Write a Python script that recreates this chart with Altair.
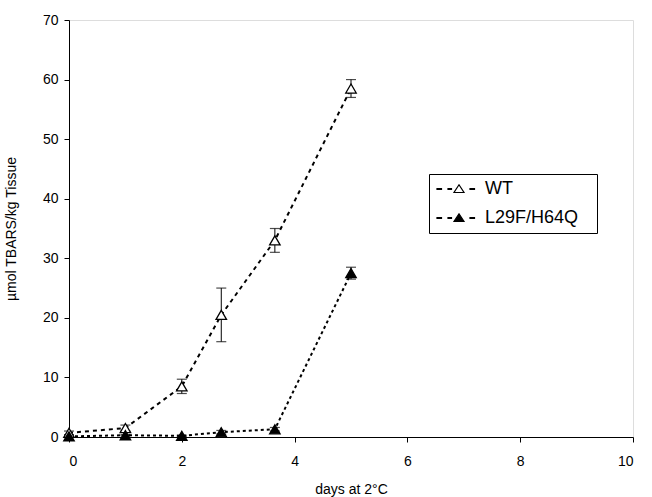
import altair as alt
import pandas as pd

days = [0, 1, 2, 2.7, 3.65, 5]
wt = [0.7, 1.5, 8.5, 20.5, 33.0, 58.5]
wt_err = [0.3, 0.5, 1.2, 4.5, 2.0, 1.5]
mut = [0.1, 0.3, 0.2, 0.8, 1.3, 27.5]
mut_err = [0.1, 0.1, 0.1, 0.3, 0.3, 1.0]
series_names = ["WT", "L29F/H64Q"]
x_ticks = [0, 2, 4, 6, 8, 10]
y_ticks = [0, 10, 20, 30, 40, 50, 60, 70]

rows = []
for d, v, e in zip(days, wt, wt_err):
    rows.append({"day": d, "val": v, "lo": v - e, "hi": v + e, "series": series_names[0]})
for d, v, e in zip(days, mut, mut_err):
    rows.append({"day": d, "val": v, "lo": max(v - e, 0), "hi": v + e, "series": series_names[1]})
df = pd.DataFrame(rows)

FONT = "Liberation Sans"

x = alt.X("day:Q", title="days at 2°C",
          scale=alt.Scale(domain=[0, 10], nice=False),
          axis=alt.Axis(values=x_ticks, format="d", grid=False, tickSize=5, labelFontSize=14,
                        titleFontSize=14, titleFontWeight="normal", labelPadding=12,
                        titlePadding=14, domainColor="black", tickColor="black",
                        labelColor="black", titleColor="black", labelFont=FONT, titleFont=FONT))
y = alt.Y("val:Q", title="µmol TBARS/kg Tissue",
          scale=alt.Scale(domain=[0, 70], nice=False),
          axis=alt.Axis(values=y_ticks, format="d", grid=False, tickSize=5, labelFontSize=14,
                        titleFontSize=14, titleFontWeight="normal", labelPadding=6,
                        titlePadding=24, domainColor="black", tickColor="black",
                        labelColor="black", titleColor="black", labelFont=FONT, titleFont=FONT))

base = alt.Chart(df)
line_wt = base.transform_filter(alt.datum.series == series_names[0]).mark_line(
    color="black", strokeWidth=2, strokeDash=[4, 4]).encode(x=x, y=y)
line_mut = base.transform_filter(alt.datum.series == series_names[1]).mark_line(
    color="black", strokeWidth=2, strokeDash=[3, 3]).encode(x=x, y=y)

err = base.mark_rule(color="black", strokeWidth=1).encode(x="day:Q", y="lo:Q", y2="hi:Q")
cap_hi = base.mark_tick(color="black", orient="horizontal", size=10, thickness=1.2).encode(x="day:Q", y="hi:Q")
cap_lo = base.mark_tick(color="black", orient="horizontal", size=10, thickness=1.2).encode(x="day:Q", y="lo:Q")

# legend symbol: dashes + triangle + dash (unit coordinates)
legend_symbol = ("M-4.4,-0.08L-3.5,-0.08L-3.5,0.08L-4.4,0.08Z "
                 "M-2.2,-0.08L-1.5,-0.08L-1.5,0.08L-2.2,0.08Z "
                 "M0,-0.85L1,0.7L-1,0.7Z "
                 "M2.2,-0.08L3.1,-0.08L3.1,0.08L2.2,0.08Z")

pts = base.mark_point(shape="triangle-up", size=110, stroke="black", strokeWidth=1.3, opacity=1, filled=True).encode(
    x="day:Q", y="val:Q",
    fill=alt.Fill("series:N", sort=series_names,
                  scale=alt.Scale(domain=series_names, range=["white", "black"]),
                  legend=alt.Legend(title="--", titleOrient="right", titleColor="transparent",
                                    titleFontSize=14, titlePadding=3,
                                    orient="none", legendX=360, legendY=154,
                                    strokeColor="black", padding=6, labelFontSize=18,
                                    labelFont=FONT, labelColor="black", symbolType=legend_symbol,
                                    symbolSize=100, symbolStrokeColor="black", symbolStrokeWidth=1.2,
                                    symbolOffset=15, rowPadding=11, labelOffset=17, labelLimit=400)),
)

chart = alt.layer(line_wt, line_mut, err, cap_hi, cap_lo, pts).properties(
    width=564, height=417,
    autosize=alt.AutoSizeParams(type="none"),
    padding={"left": 69, "top": 20, "right": 19, "bottom": 60},
).configure_view(stroke=None).configure(background="white")

chart.save("out.html", embed_options={"renderer": "svg", "actions": False})
